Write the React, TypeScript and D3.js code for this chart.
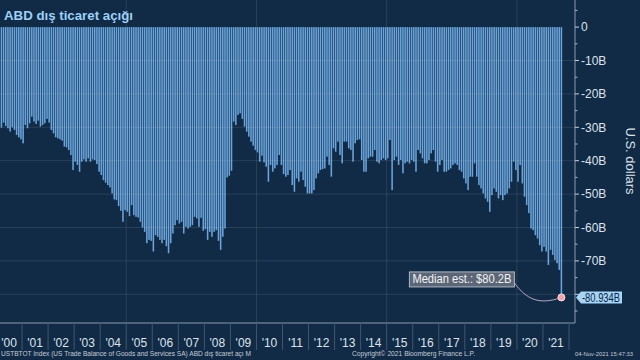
import * as d3 from 'd3';

// US trade balance, goods & services SA, monthly, billions USD
const years = d3.range(2000, 2022);
const v2000 = [-28.5, -29.5, -30.1, -28.6, -29.6, -30.3, -31.3, -30.0, -30.8, -32.3, -33.0, -33.6];
const v2001 = [-34.8, -29.3, -30.3, -28.8, -26.8, -28.3, -29.0, -28.0, -29.8, -29.3, -28.8, -27.5];
const v2002 = [-28.6, -30.8, -31.8, -33.0, -33.3, -33.6, -34.0, -35.8, -36.0, -36.8, -38.3, -42.8];
const v2003 = [-40.3, -41.3, -43.3, -40.3, -39.6, -40.3, -39.3, -40.3, -39.6, -39.8, -41.0, -43.3];
const v2004 = [-44.3, -45.8, -46.6, -47.3, -48.0, -49.8, -51.6, -51.8, -53.6, -55.0, -58.3, -54.8];
const v2005 = [-55.3, -56.6, -53.3, -56.3, -56.8, -57.0, -58.3, -60.0, -61.3, -64.7, -63.7, -64.0];
const v2006 = [-67.2, -62.3, -62.8, -63.7, -64.7, -63.7, -65.6, -67.7, -64.7, -61.8, -59.3, -57.8];
const v2007 = [-58.8, -58.3, -61.8, -59.8, -60.3, -59.8, -59.3, -56.8, -57.3, -59.8, -57.1, -61.0];
const v2008 = [-60.5, -63.7, -61.3, -62.8, -61.3, -60.8, -64.0, -66.7, -62.8, -60.3, -45.0, -44.5];
const v2009 = [-43.0, -28.3, -29.3, -26.3, -25.8, -27.5, -29.8, -31.3, -32.8, -34.3, -35.5, -36.8];
const v2010 = [-37.5, -40.3, -38.5, -40.5, -41.8, -46.3, -41.3, -43.3, -42.3, -41.3, -38.3, -41.3];
const v2011 = [-44.0, -44.8, -44.3, -42.8, -47.3, -49.3, -45.3, -46.3, -43.3, -45.8, -47.8, -49.8];
const v2012 = [-49.8, -49.8, -48.8, -45.3, -43.8, -42.8, -42.5, -42.3, -38.8, -41.3, -44.8, -36.3];
const v2013 = [-37.3, -34.3, -38.3, -40.8, -34.3, -34.3, -36.3, -36.8, -40.3, -34.8, -33.8, -33.6];
const v2014 = [-39.8, -43.3, -43.3, -39.3, -38.8, -38.8, -36.8, -40.3, -40.8, -39.8, -39.3, -39.8];
const v2015 = [-39.3, -33.8, -48.8, -39.8, -38.8, -41.3, -39.8, -43.8, -40.8, -40.3, -40.8, -39.8];
const v2016 = [-40.3, -43.3, -36.8, -37.8, -39.3, -40.8, -40.8, -39.8, -37.8, -36.8, -40.3, -43.3];
const v2017 = [-41.3, -39.8, -43.3, -43.3, -42.8, -42.3, -41.3, -40.8, -41.3, -42.8, -43.3, -45.3];
const v2018 = [-46.8, -48.8, -44.8, -44.8, -40.8, -44.8, -47.3, -48.3, -49.8, -51.3, -52.3, -55.3];
const v2019 = [-50.3, -48.3, -49.3, -51.3, -50.3, -51.8, -50.3, -49.8, -48.3, -46.3, -40.3, -42.8];
const v2020 = [-46.3, -41.3, -46.8, -50.8, -53.3, -55.7, -60.3, -60.8, -62.3, -63.3, -65.3, -67.2];
const v2021 = [-65.8, -67.2, -71.2, -66.7, -68.2, -69.7, -70.7, -72.7, -80.934];

const yearly = [v2000, v2001, v2002, v2003, v2004, v2005, v2006, v2007, v2008, v2009, v2010,
  v2011, v2012, v2013, v2014, v2015, v2016, v2017, v2018, v2019, v2020, v2021];

// -80B label sits under the last-value tag, so only its tick is drawn
const yTicks = [0, -10, -20, -30, -40, -50, -60, -70, -80];
const yTickLabels = [0, -10, -20, -30, -40, -50, -60, -70];
const minorTicks = [5, -5, -15, -25, -35, -45, -55, -65, -75, -85];
const gridYears = [2005, 2010, 2015, 2020];

const title = 'ABD dış ticaret açığı';
const medianLabel = 'Median est.: $80.2B';
const lastLabel = '-80.934B';

interface Point {
  t: number; // fractional year
  value: number;
}

const data: Point[] = yearly.flatMap((vals, i) => vals.map((value, m) => ({ t: years[i] + m / 12, value })));

const W = 640;
const H = 360;
const plotRight = 575;
const plotBottom = 323;

const FONT = '"Liberation Sans", Arial, sans-serif';
const BG = '#112a46';
const BAR = '#6aa4db';
const TXT = '#dce3ea';
const GRID = 'rgba(255,255,255,0.10)';

export default function App() {
  const x = d3.scaleLinear().domain([2000, 2022]).range([-4, 569]);
  const y = d3.scaleLinear().domain([0, -80]).range([27.1, 294.3]);
  const step = x(2000 + 1 / 12) - x(2000);
  const barW = step * 0.72;

  const last = data[data.length - 1];
  const dotX = x(last.t) + step / 2;
  const dotY = y(last.value);

  const boxR = dotX - 47;
  const boxL = boxR - 105;
  const boxT = dotY - 25.5;
  const boxB = dotY - 10.5;

  return (
    <svg
      width={W}
      height={H}
      style={{ position: 'fixed', left: 0, top: 0, background: BG, fontFamily: FONT }}
    >
      <rect x={0} y={0} width={W} height={H} fill={BG} />
      <defs>
        <clipPath id="plot">
          <rect x={0} y={0} width={plotRight} height={plotBottom} />
        </clipPath>
      </defs>

      <g clipPath="url(#plot)">
        {/* bars hang from zero */}
        {data.map((d, i) => (
          <rect
            key={i}
            x={x(d.t) + (step - barW) / 2}
            y={y(0)}
            width={barW}
            height={y(d.value) - y(0)}
            fill={BAR}
          />
        ))}

        {/* grid */}
        {yTicks.slice(1).map((t) => (
          <line key={t} x1={0} x2={plotRight} y1={y(t)} y2={y(t)} stroke={GRID} strokeWidth={1} />
        ))}
        {gridYears.map((g) => (
          <line key={g} x1={x(g)} x2={x(g)} y1={0} y2={plotBottom} stroke={GRID} strokeWidth={1} />
        ))}
      </g>

      {/* frame */}
      <line x1={0} x2={plotRight} y1={plotBottom} y2={plotBottom} stroke="#8a9bb0" strokeWidth={1} />
      <line x1={plotRight} x2={plotRight} y1={0} y2={plotBottom} stroke="#8a9bb0" strokeWidth={1} />

      {/* y axis */}
      {minorTicks.map((t) => (
        <line key={t} x1={plotRight} x2={plotRight + 2.5} y1={y(t)} y2={y(t)} stroke="#a8b6c6" />
      ))}
      {yTicks.map((t) => (
        <line key={t} x1={plotRight} x2={plotRight + 4} y1={y(t)} y2={y(t)} stroke="#c8d2dc" />
      ))}
      {yTickLabels.map((t) => (
        <text key={t} x={plotRight + 6} y={y(t) + 4.3} fill={TXT} fontSize={12}>
          {t === 0 ? '0' : `${t}B`}
        </text>
      ))}
      <text
        transform={`translate(626, 161) rotate(90)`}
        textAnchor="middle"
        fill={TXT}
        fontSize={13}
      >
        U.S. dollars
      </text>

      {/* x axis */}
      {years.map((yr) => (
        <g key={yr}>
          <line x1={x(yr + 1)} x2={x(yr + 1)} y1={plotBottom} y2={350} stroke="#3e5672" />
          <text
            x={(x(yr) + x(yr + 1)) / 2}
            y={347}
            textAnchor="middle"
            fill={TXT}
            fontSize={12}
          >
            {`'${String(yr).slice(2)}`}
          </text>
        </g>
      ))}

      {/* title */}
      <text x={4} y={20} fill="#9fd0f6" fontSize={13} fontWeight="bold" textLength={129} lengthAdjust="spacingAndGlyphs">
        {title}
      </text>

      {/* median estimate annotation */}
      <path
        d={`M${boxR},${boxB - 4} C${boxR + 12},${dotY + 2} ${dotX - 22},${dotY + 8} ${dotX},${dotY}`}
        fill="none"
        stroke="#b4a8c4"
        strokeWidth={1}
      />
      <rect x={boxL} y={boxT} width={boxR - boxL} height={boxB - boxT} fill="#5c6676" stroke="#aeb8c4" strokeWidth={1} />
      <text x={boxL + 3} y={boxB - 3.5} fill="#f2f4f6" fontSize={12} textLength={99} lengthAdjust="spacingAndGlyphs">
        {medianLabel}
      </text>
      <circle cx={dotX} cy={dotY} r={3.5} fill="#f2a2aa" stroke="#fbe3e6" strokeWidth={1} />

      {/* last value tag */}
      <path
        d={`M${plotRight + 1},${dotY} L${plotRight + 6},${dotY - 6} L622,${dotY - 6} L622,${dotY + 6} L${plotRight + 6},${dotY + 6} Z`}
        fill="#a6d5f7"
      />
      <text x={plotRight + 7} y={dotY + 4.3} fill="#0c2440" fontSize={12} textLength={38} lengthAdjust="spacingAndGlyphs">
        {lastLabel}
      </text>

      {/* footer */}
      <text x={1} y={356} fill="#c4ccd6" fontSize={7.5} textLength={250} lengthAdjust="spacingAndGlyphs">
        USTBTOT Index (US Trade Balance of Goods and Services SA) ABD dış ticaret açı  M
      </text>
      <text x={352} y={356} fill="#c4ccd6" fontSize={7.5} textLength={123} lengthAdjust="spacingAndGlyphs">
        Copyright© 2021 Bloomberg Finance L.P.
      </text>
      <text x={575} y={356} fill="#c4ccd6" fontSize={6.2} textLength={58} lengthAdjust="spacingAndGlyphs">
        04-Nov-2021 15:47:33
      </text>
    </svg>
  );
}
